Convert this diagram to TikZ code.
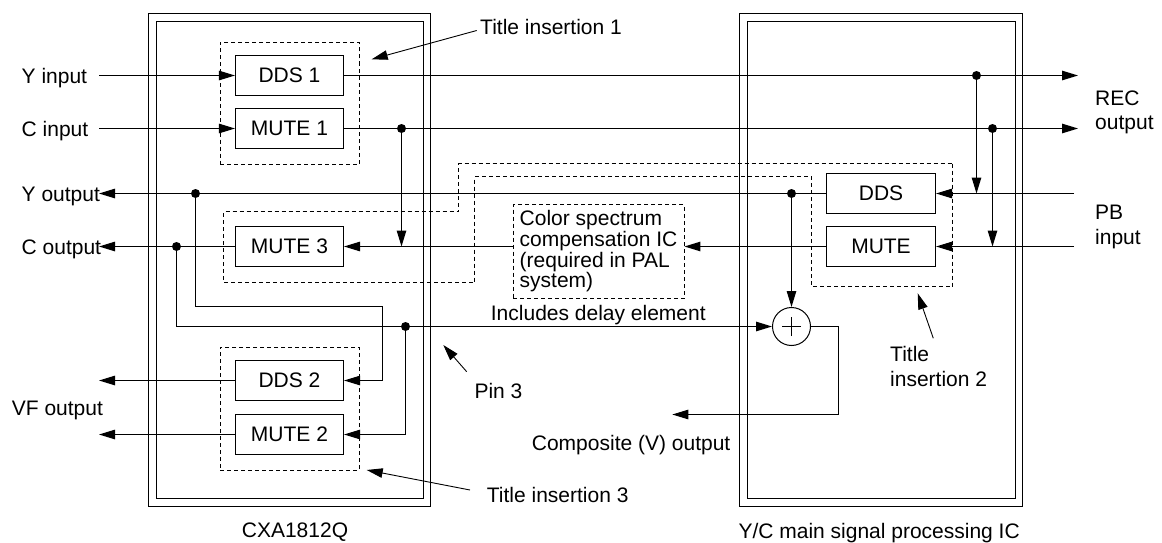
\documentclass[tikz,border=0pt]{standalone}
\usepackage{fontspec}
\setmainfont{Liberation Sans}
\usetikzlibrary{arrows.meta}
\begin{document}
\begin{tikzpicture}[x=1pt,y=-1pt,
  every node/.style={font=\fontsize{21}{24}\selectfont, inner sep=0pt},
  blk/.style={draw, line width=1.1pt, minimum width=108pt, minimum height=40pt},
  dbox/.style={draw, dash pattern=on 4pt off 3pt, line width=0.9pt},
  wire/.style={line width=1.1pt},
  arr/.style={wire, -{Triangle[length=16pt,width=9.5pt]}},
  lead/.style={line width=0.9pt, -{Triangle[length=16pt,width=9.5pt]}},
  jdot/.style={circle, fill, minimum size=9pt, inner sep=0pt},
  lbl/.style={anchor=base west},
]
\useasboundingbox (0,0) rectangle (1162,543);

% IC outlines
\draw[wire] (148.5,13.5) rectangle (430.5,506.5);
\draw[wire] (156.5,21.5) rectangle (423.5,498.5);
\draw[wire] (739.5,13.5) rectangle (1022.5,506.5);
\draw[wire] (747.5,21.5) rectangle (1015.5,498.5);

% blocks
\node[blk] (dds1) at (289.5,75.5) {DDS 1};
\node[blk] (mute1) at (289.5,128.5) {MUTE 1};
\node[blk] (mute3) at (289.5,246.5) {MUTE 3};
\node[blk] (dds2) at (289.5,380.5) {DDS 2};
\node[blk] (mute2) at (289.5,434.5) {MUTE 2};
\node[blk, minimum width=109pt] (dds) at (881,193.5) {DDS};
\node[blk, minimum width=109pt] (mute) at (881,246.5) {MUTE};
\node[dbox, align=left, minimum width=171pt, minimum height=94pt,
      font=\fontsize{21}{20.7}\selectfont] (color) at (598.5,251.5)
      {Color spectrum\\compensation IC\\(required in PAL\\system)};
\node[circle, draw, line width=1pt, minimum size=38pt] (add) at (791.5,326.5) {};
\draw[line width=1pt] ([xshift=-9.5pt]add.center) -- ([xshift=9.5pt]add.center);
\draw[line width=1pt] ([yshift=-9.5pt]add.center) -- ([yshift=9.5pt]add.center);

% dashed title-insertion areas
\node[dbox, minimum width=139pt, minimum height=122pt] (ti1) at (289.5,103.5) {};
\node[dbox, minimum width=139pt, minimum height=123pt] (ti3) at (289.5,408.5) {};
\draw[dbox] (952.5,163.5) -- (952.5,286.5) -- (811.5,286.5) -- (811.5,176.5)
  -- (474.5,176.5) -- (474.5,282.5) -- (223.5,282.5) -- (223.5,211.5)
  -- (458.5,211.5) -- (458.5,163.5) -- cycle;

% coordinates for free ends
\coordinate (yin) at (99,75.5);
\coordinate (cin) at (99,128.5);
\coordinate (recy) at (1078,75.5);
\coordinate (recc) at (1078,128.5);
\coordinate (pby) at (1074,193.5);
\coordinate (pbc) at (1074,246.5);
\coordinate (yout) at (99,193.5);
\coordinate (cout) at (99,246.5);
\coordinate (vf1) at (99,380.5);
\coordinate (vf2) at (99,434.5);
\coordinate (b1) at (195.5,306.5);
\coordinate (b2) at (382.5,306.5);
\coordinate (cb1) at (838.5,414.5);
\coordinate (compo) at (672.3,414.5);

% junctions
\node[jdot] (j1) at (976.5,75.5) {};
\node[jdot] (j2) at (992.5,128.5) {};
\node[jdot] (j3) at (791.5,193.5) {};
\node[jdot] (j4) at (195.5,193.5) {};
\node[jdot] (j5) at (401.5,128.5) {};
\node[jdot] (j6) at (176.5,246.5) {};
\node[jdot] (j7) at (405.5,326.5) {};

% signal wires
\draw[arr] (yin) -- (dds1.west);
\draw[arr] (cin) -- (mute1.west);
\draw[arr] (dds1.east) -- (recy);
\draw[arr] (mute1.east) -- (recc);
\draw[arr] (j1.center) -- (j1.center |- dds.east);
\draw[arr] (j2.center) -- (j2.center |- mute.east);
\draw[arr] (pby) -- (dds.east);
\draw[arr] (pbc) -- (mute.east);
\draw[arr] (dds.west) -- (yout);
\draw[arr] (j3.center) -- (add.north);
\draw[arr] (mute.west) -- (mute.west -| color.east);
\draw[arr] (color.west |- mute3.east) -- (mute3.east);
\draw[arr] (j5.center) -- (j5.center |- mute3.east);
\draw[arr] (mute3.west) -- (cout);
\draw[arr] (j6.center) |- (add.west);
\draw[arr] (j7.center) |- (mute2.east);
\draw[arr] (j4.center) -- (b1) -- (b2) |- (dds2.east);
\draw[arr] (dds2.west) -- (vf1);
\draw[arr] (mute2.west) -- (vf2);
\draw[arr] (add.east) -| (cb1) -- (compo);

% labels
\node[lbl] (lyin) at (21.5,83) {Y input};
\node[lbl] (lcin) at (21.5,136) {C input};
\node[lbl] (lyout) at (21.5,201) {Y output};
\node[lbl] (lcout) at (21.5,254) {C output};
\node[lbl] (lvf) at (11.7,415) {VF output};
\node[anchor=north west, align=left, font=\fontsize{21}{23.5}\selectfont] (lrec) at (1095,91) {REC\\output};
\node[anchor=north west, align=left, font=\fontsize{21}{25}\selectfont] (lpb) at (1095,205) {PB\\input};
\node[lbl] (ldelay) at (490.7,320.7) {Includes delay element};
\node[lbl] (lcomp) at (531.7,450) {Composite (V) output};
\node[anchor=base] (lcxa) at (295,537.7) {CXA1812Q};
\node[lbl] (lyc) at (738.3,538.3) {Y/C main signal processing IC};

% leader labels
\node[lbl] (lti1) at (480,34.3) {Title insertion 1};
\coordinate (ti1s) at (476.7,30.5);
\coordinate (ti1t) at (371.7,59.3);
\draw[lead] (ti1s) -- (ti1t);
\node[lbl] (lpin) at (474.3,398.3) {Pin 3};
\coordinate (pins) at (466.7,371.7);
\coordinate (pint) at (443.3,345);
\draw[lead] (pins) -- (pint);
\node[anchor=north west, align=left, font=\fontsize{21}{25}\selectfont] (lti2) at (890,346.4) {Title\\insertion 2};
\coordinate (ti2s) at (933.3,338.3);
\coordinate (ti2t) at (917.7,293.3);
\draw[lead] (ti2s) -- (ti2t);
\node[lbl] (lti3) at (486.7,502.7) {Title insertion 3};
\coordinate (ti3s) at (470,490);
\coordinate (ti3t) at (366.7,470);
\draw[lead] (ti3s) -- (ti3t);
\end{tikzpicture}
\end{document}
